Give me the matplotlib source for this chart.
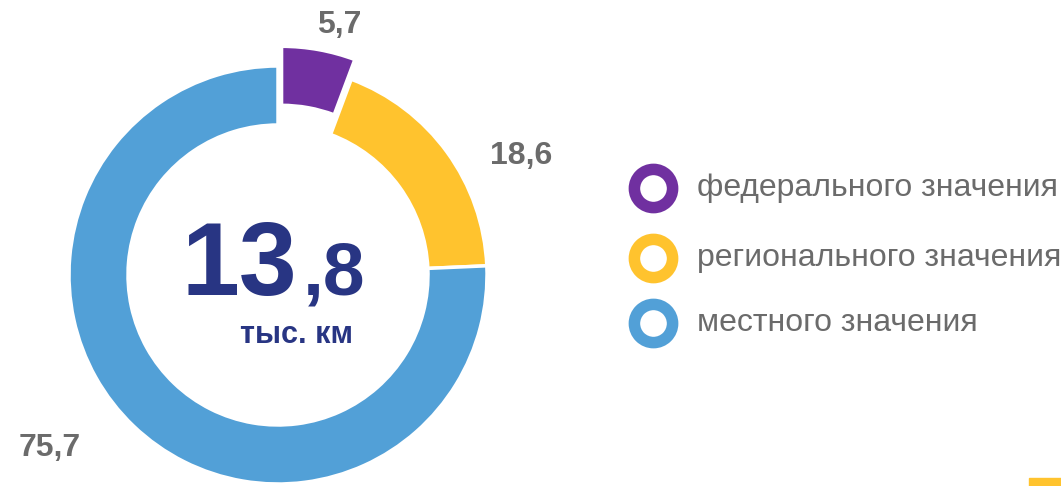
import matplotlib
matplotlib.use("Agg")
import matplotlib.pyplot as plt
from matplotlib.lines import Line2D

# Data
categories = ["федерального значения", "регионального значения", "местного значения"]
shares = [5.7, 18.6, 75.7]
share_labels = ["5,7", "18,6", "75,7"]
total_main = "13"
total_frac = ",8"
total_unit = "тыс. км"
colors = ["#7030A0", "#FFC32E", "#52A0D7"]

W, H = 1061, 486
fig = plt.figure(figsize=(W / 100, H / 100), dpi=100)
ax = fig.add_axes([0, 0, 1, 1])

cx, cy = 278, H - 275
R = 209
ring = 59

ax.pie(shares, colors=colors, startangle=90, counterclock=False,
       radius=R, center=(cx, cy), explode=[20, 0, 0],
       wedgeprops=dict(width=ring, edgecolor="white", linewidth=2.5),
       frame=True)
ax.set_xlim(0, W)
ax.set_ylim(0, H)
ax.set_aspect("equal")
ax.axis("off")

font = "Liberation Sans"
label_color = "#6B6B6B"
label_pos = [(339, 25), (521, 156), (50, 448)]
for (px, py), t in zip(label_pos, share_labels):
    ax.text(px, H - py, t, ha="center", va="center", fontsize=23,
            fontweight="bold", color=label_color, family=font)

navy = "#283583"
ax.text(297, H - 295, total_main, ha="right", va="baseline", fontsize=75,
        fontweight="bold", color=navy, family=font)
ax.text(303, H - 295, total_frac, ha="left", va="baseline", fontsize=54,
        fontweight="bold", color=navy, family=font)
ax.text(297, H - 343, total_unit, ha="center", va="baseline", fontsize=22,
        fontweight="bold", color=navy, family=font)

# Legend
leg_y = [188, 258, 323]
for yy, c, name in zip(leg_y, colors, categories):
    ax.add_line(Line2D([653], [H - yy], marker="o", markersize=27.5,
                       markerfacecolor="white", markeredgecolor=c,
                       markeredgewidth=8.3, linestyle="none"))
    ax.text(697, H - yy, name, ha="left", va="center", fontsize=23,
            color=label_color, family=font)

# small accent bar bottom right
ax.add_patch(plt.Rectangle((1029, 0), 40, 8, color="#FFC32E", clip_on=False))

fig.savefig("out.png", dpi=100)
